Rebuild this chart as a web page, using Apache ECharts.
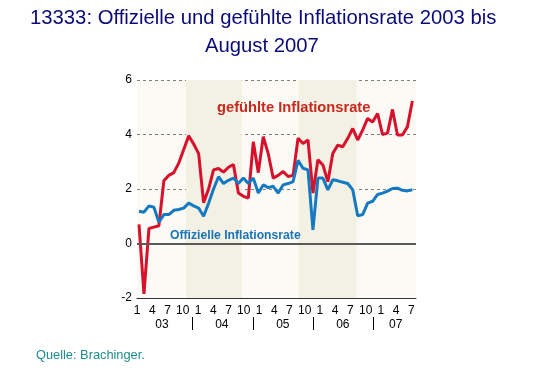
<!DOCTYPE html>
<html>
<head>
<meta charset="utf-8">
<script src="https://cdn.jsdelivr.net/npm/echarts@6/dist/echarts.min.js"></script>
<style>
  html, body { margin: 0; padding: 0; background: #fff; }
  #chart { width: 553px; height: 376px; }
</style>
</head>
<body>
<div id="chart"></div>
<script>
// Monatswerte Jan 2003 .. Aug 2007 (Index 0 = Jan 03)
const gefuehlt = [
  0.7, -1.85, 0.55, 0.6, 0.65, 2.3, 2.5, 2.6, 2.95, 3.45, 3.95, 3.65,
  3.3, 1.5, 2.0, 2.7, 2.75, 2.62, 2.8, 2.9, 1.85, 1.73, 1.67, 3.73,
  2.6, 3.92, 3.3, 2.4, 2.5, 2.64, 2.46, 2.5, 3.86, 3.67, 3.8, 1.85,
  3.07, 2.88, 2.27, 3.31, 3.61, 3.55, 3.86, 4.22, 3.8, 4.16, 4.59, 4.46,
  4.77, 4.0, 4.05, 4.92, 3.98, 3.98, 4.28, 5.23
]
const offiziell = [
  1.18, 1.15, 1.38, 1.33, 0.78, 1.06, 1.06, 1.22, 1.25, 1.3, 1.48, 1.38,
  1.3, 1.0, 1.48, 2.0, 2.45, 2.2, 2.32, 2.4, 2.2, 2.4, 2.2, 2.4,
  1.85, 2.15, 2.05, 2.1, 1.85, 2.15, 2.2, 2.27, 3.05, 2.76, 2.7, 0.5,
  2.4, 2.4, 1.97, 2.34, 2.3, 2.25, 2.2, 1.97, 1.02, 1.06, 1.48, 1.55,
  1.8, 1.85, 1.92, 2.02, 2.03, 1.95, 1.93, 1.97
]

// Achsenbeschriftung
const monthTicks = [0, 3, 6, 9, 12, 15, 18, 21, 24, 27, 30, 33, 36, 39, 42, 45, 48, 51, 54]
const yearLabels = ['03', '04', '05', '06', '07']
const yearLabelPos = [4.9, 16.7, 28.7, 40.5, 50.9]
const yearSepPos = [10.8, 22.8, 34.6, 46.4]
const yTicks = [-2, 0, 2, 4, 6]

// hinterlegte Bereiche (Monatsindex)
const bands = [[9.46, 20.66], [32.05, 43.8]]

const chart = echarts.init(document.getElementById('chart'))
const font = '"Liberation Sans", Arial, sans-serif'
const titleStyle = { fontFamily: font, fontSize: 20.3, fontWeight: 'normal', color: '#0b0b78' }

const option = {
  animation: false,
  title: [
    {
      text: '13333: Offizielle und gefühlte Inflationsrate 2003 bis',
      left: 25,
      top: 3,
      textStyle: titleStyle
    },
    {
      text: 'August 2007',
      left: 200,
      top: 31,
      textStyle: titleStyle
    },
    {
      text: 'Quelle: Brachinger.',
      left: 31,
      top: 344,
      textStyle: { fontFamily: font, fontSize: 12.8, fontWeight: 'normal', color: '#1e8c8c' }
    }
  ],
  graphic: [
    {
      type: 'text', left: 217, top: 100, z: 100,
      style: { text: 'gefühlte Inflationsrate', font: 'bold 14.7px ' + font, fill: '#c8281e' }
    },
    {
      type: 'text', left: 170, top: 230, z: 100,
      style: { text: 'Offizielle Inflationsrate', font: 'bold 12.2px ' + font, fill: '#1a74b9' }
    }
  ],
  grid: {
    left: 137, right: 137, top: 80, bottom: 78,
    show: true, backgroundColor: '#fbfaf4', borderWidth: 0
  },
  xAxis: [
    { // Datenachse
      type: 'value', min: -0.4, max: 55.73, show: false
    },
    { // Monate
      type: 'value', min: 0, max: 54.9, position: 'bottom',
      axisLine: { show: true, lineStyle: { color: '#333', width: 1 } },
      axisTick: { show: false },
      splitLine: { show: false },
      axisLabel: {
        customValues: monthTicks, margin: 7,
        fontFamily: font, fontSize: 12, color: '#000',
        formatter: v => String((Math.round(v) % 12) + 1)
      }
    },
    { // Jahre
      type: 'value', min: 0, max: 54.9, position: 'bottom', offset: 19,
      axisLine: { show: false },
      axisTick: { show: true, customValues: yearSepPos, length: 13, inside: false, lineStyle: { color: '#000', width: 1 } },
      splitLine: { show: false },
      axisLabel: {
        customValues: yearLabelPos, margin: 2,
        fontFamily: font, fontSize: 12, color: '#000',
        formatter: v => yearLabels[yearLabelPos.indexOf(v)]
      }
    }
  ],
  yAxis: {
    type: 'value', min: yTicks[0], max: yTicks[yTicks.length - 1], interval: 2,
    axisLine: { show: false },
    axisTick: { show: false },
    axisLabel: { margin: 5, fontFamily: font, fontSize: 12, color: '#000' },
    splitLine: { show: true, lineStyle: { color: '#808080', type: [3, 3], width: 1 } }
  },
  series: [
    {
      name: 'gefühlte Inflationsrate',
      type: 'line',
      xAxisIndex: 0,
      data: gefuehlt.map((v, i) => [i, v]),
      showSymbol: false,
      lineStyle: { color: '#d8102c', width: 3 },
      z: 3,
      markArea: {
        silent: true,
        itemStyle: { color: '#f3f1e3' },
        data: bands.map(b => [{ xAxis: b[0] }, { xAxis: b[1] }])
      },
      markLine: {
        silent: true,
        symbol: 'none',
        label: { show: false },
        lineStyle: { color: '#5a5a5a', type: 'solid', width: 2 },
        data: [{ yAxis: 0 }]
      }
    },
    {
      name: 'Offizielle Inflationsrate',
      type: 'line',
      xAxisIndex: 0,
      data: offiziell.map((v, i) => [i, v]),
      showSymbol: false,
      lineStyle: { color: '#1479c0', width: 3 },
      z: 4
    }
  ]
}
chart.setOption(option)
</script>
</body>
</html>
